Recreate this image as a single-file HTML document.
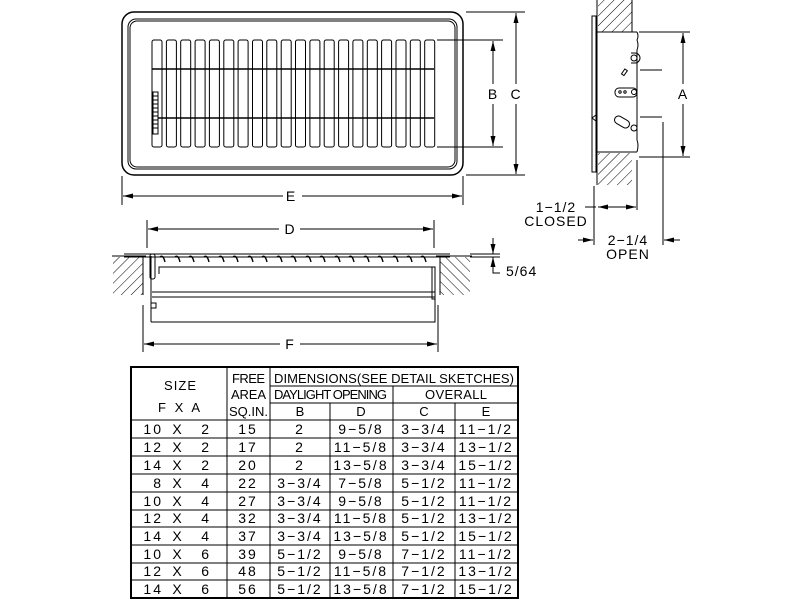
<!DOCTYPE html>
<html><head><meta charset="utf-8"><style>
body{margin:0;background:#fff;}
svg{display:block;font-family:"Liberation Sans",sans-serif;}
</style></head><body>
<svg width="800" height="600" viewBox="0 0 800 600" xmlns="http://www.w3.org/2000/svg">
<defs>
<marker id="a" viewBox="0 0 10 6" refX="10" refY="3" markerWidth="10" markerHeight="6" orient="auto-start-reverse" markerUnits="userSpaceOnUse"><path d="M0,0.5 L10,3 L0,5.5z" fill="#000"/></marker>
<pattern id="h" width="7" height="7" patternUnits="userSpaceOnUse" patternTransform="rotate(45)"><line x1="0" y1="0" x2="0" y2="7" stroke="#000" stroke-width="1"/></pattern>
<pattern id="h2" width="7" height="7" patternUnits="userSpaceOnUse" patternTransform="rotate(-45)"><line x1="0" y1="0" x2="0" y2="7" stroke="#000" stroke-width="1"/></pattern>
</defs>
<g fill="none" stroke="#000" stroke-width="1">
<rect x="122" y="12" width="341" height="163" rx="12" stroke-width="1.5"/>
<rect x="128" y="19" width="329" height="150" rx="8"/>
<rect x="130" y="21" width="325" height="146" rx="7"/>
<rect x="152" y="40" width="10" height="107" rx="2"/>
<rect x="166.4" y="40" width="10" height="107" rx="2"/>
<rect x="180.7" y="40" width="10" height="107" rx="2"/>
<rect x="195.1" y="40" width="10" height="107" rx="2"/>
<rect x="209.4" y="40" width="10" height="107" rx="2"/>
<rect x="223.8" y="40" width="10" height="107" rx="2"/>
<rect x="238.1" y="40" width="10" height="107" rx="2"/>
<rect x="252.5" y="40" width="10" height="107" rx="2"/>
<rect x="266.8" y="40" width="10" height="107" rx="2"/>
<rect x="281.2" y="40" width="10" height="107" rx="2"/>
<rect x="295.5" y="40" width="10" height="107" rx="2"/>
<rect x="309.9" y="40" width="10" height="107" rx="2"/>
<rect x="324.2" y="40" width="10" height="107" rx="2"/>
<rect x="338.6" y="40" width="10" height="107" rx="2"/>
<rect x="352.9" y="40" width="10" height="107" rx="2"/>
<rect x="367.3" y="40" width="10" height="107" rx="2"/>
<rect x="381.6" y="40" width="10" height="107" rx="2"/>
<rect x="396" y="40" width="10" height="107" rx="2"/>
<rect x="410.3" y="40" width="10" height="107" rx="2"/>
<rect x="424.7" y="40" width="10" height="107" rx="2"/>
<line x1="152" y1="69" x2="434" y2="69" stroke-width="1.6"/>
<line x1="152" y1="118" x2="434" y2="118" stroke-width="1.6"/>
<rect x="153" y="92" width="5" height="42" fill="#fff"/>
<path d="M153,96h5M153,100h5M153,104h5M153,108h5M153,112h5M153,116h5M153,120h5M153,124h5M153,128h5"/>
<path d="M437,40H503M437,147H503M466,12H525M466,175H525"/>
<line x1="493" y1="41" x2="493" y2="84" marker-start="url(#a)"/>
<line x1="493" y1="104" x2="493" y2="146" marker-end="url(#a)"/>
<line x1="516" y1="13" x2="516" y2="84" marker-start="url(#a)"/>
<line x1="516" y1="104" x2="516" y2="174" marker-end="url(#a)"/>
<path d="M122,176V205M463,176V205"/>
<line x1="123" y1="196" x2="283" y2="196" marker-start="url(#a)"/>
<line x1="302" y1="196" x2="462" y2="196" marker-end="url(#a)"/>
<path d="M147,220V248M434,220V248"/>
<line x1="148" y1="229" x2="279" y2="229" marker-start="url(#a)"/>
<line x1="300" y1="229" x2="433" y2="229" marker-end="url(#a)"/>
<path d="M112,256H146M436,256H472M124,254H450M124,257H450"/>
<rect x="113" y="257" width="30" height="38" fill="url(#h)" stroke="none"/>
<rect x="440" y="257" width="30" height="38" fill="url(#h2)" stroke="none"/>
<path d="M143,257V295M440,257V295"/>
<rect x="150" y="254" width="5" height="25" rx="2"/>
<g stroke-width="1.4">
<path d="M160,257q3,-3 5,5M175,257q3,-3 5,5M189,257q3,-3 5,5M204,257q3,-3 5,5M219,257q3,-3 5,5M233,257q3,-3 5,5M248,257q3,-3 5,5M262,257q3,-3 5,5M277,257q3,-3 5,5M291,257q3,-3 5,5M306,257q3,-3 5,5M320,257q3,-3 5,5M335,257q3,-3 5,5M349,257q3,-3 5,5M364,257q3,-3 5,5M378,257q3,-3 5,5M393,257q3,-3 5,5M407,257q3,-3 5,5M421,257q3,-3 5,5"/>
</g>
<path d="M151,322V256M151,322H435V267H159V274M152,292H435M152,297H435"/>
<rect x="151" y="303" width="5" height="5"/>
<rect x="432" y="267" width="3" height="32"/>
<path d="M143,305V352M438,305V352"/>
<line x1="144" y1="344" x2="280" y2="344" marker-start="url(#a)"/>
<line x1="300" y1="344" x2="437" y2="344" marker-end="url(#a)"/>
<path d="M470,257H500M470,254H500"/>
<line x1="493" y1="238" x2="493" y2="254" marker-end="url(#a)"/>
<line x1="493" y1="273" x2="493" y2="257" marker-end="url(#a)"/>
<path d="M493,266V273H500"/>
<rect x="598" y="0" width="34" height="32" fill="url(#h)" stroke="none"/>
<rect x="598" y="153" width="34" height="32" fill="url(#h)" stroke="none"/>
<path d="M597,0V185M632,0V32M597,32H637M597,152H637"/>
<path d="M637,32q2,4 0,8q2,5 0,10V140q2,5 0,12"/>
<rect x="592" y="16" width="4" height="156" fill="#fff"/>
<path d="M596,115l-4,3l4,3"/>
<path d="M639,32H690M639,157H690"/>
<line x1="683" y1="33" x2="683" y2="84" marker-start="url(#a)"/>
<line x1="683" y1="104" x2="683" y2="156" marker-end="url(#a)"/>
<path d="M640,70H662M640,117H662"/>
<circle cx="634" cy="58" r="3"/><path d="M631,53h4a5,5 0 0 1 0,10h-4"/>
<rect x="623" y="69" width="3" height="6" transform="rotate(35 624 72)"/>
<rect x="615" y="88" width="22" height="9" rx="4"/><circle cx="620" cy="92" r="1.2"/><circle cx="625" cy="92" r="1.2"/><circle cx="634" cy="92" r="2.5"/>
<rect x="614" y="118" width="16" height="8" rx="4" transform="rotate(30 622 122)"/><circle cx="634" cy="128" r="3"/>
<path d="M594,186V245M637,160V210M663,122V245"/>
<line x1="585" y1="207" x2="596" y2="207"/>
<line x1="598" y1="207" x2="636" y2="207" marker-start="url(#a)" marker-end="url(#a)"/>
<line x1="578" y1="240" x2="593" y2="240" marker-end="url(#a)"/>
<line x1="680" y1="240" x2="664" y2="240" marker-end="url(#a)"/>
<rect x="131" y="367" width="387" height="231" stroke-width="2"/>
<path d="M227,367V598M270,367V598M330,403V598M393,386V598M455,403V598M270,386H518M270,403H518M131,420H518"/>
<path d="M131,438H518M131,456H518M131,474H518M131,492H518M131,510H518M131,527H518M131,545H518M131,563H518M131,580H518"/>
</g>
<g font-size="14" text-anchor="middle" fill="#000" letter-spacing="1">
<text x="291" y="201">E</text>
<text x="493" y="99">B</text>
<text x="516" y="99">C</text>
<text x="290" y="234">D</text>
<text x="290" y="349">F</text>
<text x="683" y="99">A</text>
<text x="506" y="276" text-anchor="start">5/64</text>
<text x="556" y="212">1−1/2</text>
<text x="556" y="226">CLOSED</text>
<text x="628" y="245">2−1/4</text>
<text x="628" y="259">OPEN</text>
</g>
<g font-size="13" fill="#000" lengthAdjust="spacing">
<text x="164" y="390" textLength="32">SIZE</text>
<text x="158" y="412" textLength="42" lengthAdjust="spacing">F X A</text>
<text x="232" y="383" textLength="33">FREE</text>
<text x="231" y="399" textLength="35">AREA</text>
<text x="229" y="416" textLength="39">SQ.IN.</text>
<text x="274" y="383" textLength="240">DIMENSIONS(SEE DETAIL SKETCHES)</text>
<text x="274" y="399" textLength="113">DAYLIGHT OPENING</text>
<text x="425" y="399" textLength="62">OVERALL</text>
<g text-anchor="middle"><text x="300" y="416">B</text><text x="361" y="416">D</text><text x="424" y="416">C</text><text x="486" y="416">E</text></g>
</g>
<g font-size="14" text-anchor="middle" fill="#000" letter-spacing="2">
<g text-anchor="end"><text x="163" y="434">10</text><text x="163" y="452">12</text><text x="163" y="470">14</text><text x="163" y="488">8</text><text x="163" y="506">10</text><text x="163" y="523">12</text><text x="163" y="541">14</text><text x="163" y="559">10</text><text x="163" y="576">12</text><text x="163" y="594">14</text>
<text x="211" y="434">2</text><text x="211" y="452">2</text><text x="211" y="470">2</text><text x="211" y="488">4</text><text x="211" y="506">4</text><text x="211" y="523">4</text><text x="211" y="541">4</text><text x="211" y="559">6</text><text x="211" y="576">6</text><text x="211" y="594">6</text></g>
<text x="178" y="434">X</text><text x="178" y="452">X</text><text x="178" y="470">X</text><text x="178" y="488">X</text><text x="178" y="506">X</text><text x="178" y="523">X</text><text x="178" y="541">X</text><text x="178" y="559">X</text><text x="178" y="576">X</text><text x="178" y="594">X</text>
<text x="248" y="434">15</text><text x="300" y="434">2</text><text x="361" y="434">9−5/8</text><text x="424" y="434">3−3/4</text><text x="486" y="434">11−1/2</text>
<text x="248" y="452">17</text><text x="300" y="452">2</text><text x="361" y="452">11−5/8</text><text x="424" y="452">3−3/4</text><text x="486" y="452">13−1/2</text>
<text x="248" y="470">20</text><text x="300" y="470">2</text><text x="361" y="470">13−5/8</text><text x="424" y="470">3−3/4</text><text x="486" y="470">15−1/2</text>
<text x="248" y="488">22</text><text x="300" y="488">3−3/4</text><text x="361" y="488">7−5/8</text><text x="424" y="488">5−1/2</text><text x="486" y="488">11−1/2</text>
<text x="248" y="506">27</text><text x="300" y="506">3−3/4</text><text x="361" y="506">9−5/8</text><text x="424" y="506">5−1/2</text><text x="486" y="506">11−1/2</text>
<text x="248" y="523">32</text><text x="300" y="523">3−3/4</text><text x="361" y="523">11−5/8</text><text x="424" y="523">5−1/2</text><text x="486" y="523">13−1/2</text>
<text x="248" y="541">37</text><text x="300" y="541">3−3/4</text><text x="361" y="541">13−5/8</text><text x="424" y="541">5−1/2</text><text x="486" y="541">15−1/2</text>
<text x="248" y="559">39</text><text x="300" y="559">5−1/2</text><text x="361" y="559">9−5/8</text><text x="424" y="559">7−1/2</text><text x="486" y="559">11−1/2</text>
<text x="248" y="576">48</text><text x="300" y="576">5−1/2</text><text x="361" y="576">11−5/8</text><text x="424" y="576">7−1/2</text><text x="486" y="576">13−1/2</text>
<text x="248" y="594">56</text><text x="300" y="594">5−1/2</text><text x="361" y="594">13−5/8</text><text x="424" y="594">7−1/2</text><text x="486" y="594">15−1/2</text>
</g>
</svg>
</body></html>
